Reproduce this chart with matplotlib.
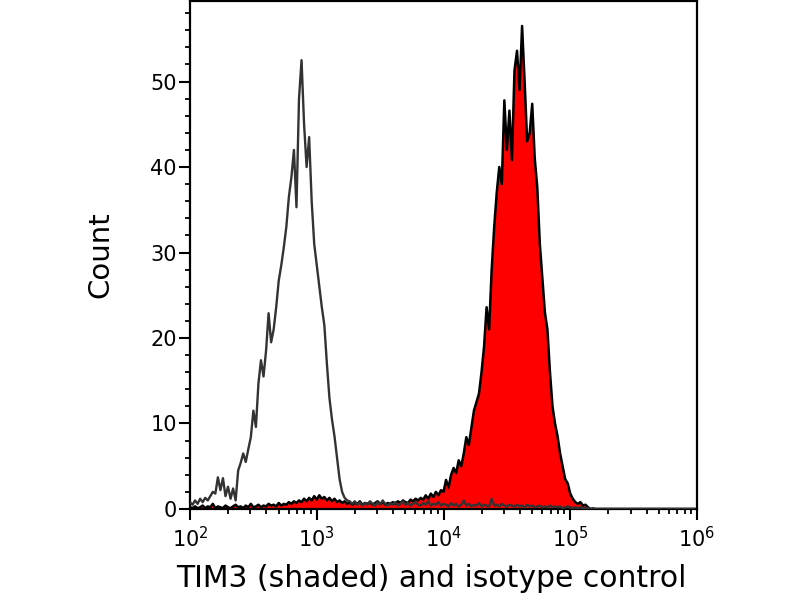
import matplotlib
matplotlib.use("Agg")
import matplotlib.pyplot as plt
import numpy as np
from matplotlib.ticker import LogLocator, NullFormatter, MultipleLocator, FixedLocator

# bin centres, log10 units (0.02-decade channels from 10^2 to 10^6)
log_start = 2.0
log_step = 0.02

isotype_counts = [
    0.8, 0.5, 1.0, 0.6, 1.2, 0.8, 1.3, 1.0, 1.5, 2.0,
    1.8, 3.7, 2.2, 3.6, 1.5, 2.6, 1.2, 2.4, 1.0, 4.5,
    5.4, 6.5, 5.5, 7.0, 8.4, 11.5, 9.6, 14.7, 17.4, 15.5,
    18.5, 22.9, 19.5, 21.0, 23.6, 26.7, 28.5, 30.6, 33.0, 36.5,
    38.8, 42.0, 35.3, 48.0, 52.5, 45.0, 40.0, 43.5, 36.0, 31.0,
    28.5, 26.0, 23.6, 21.5, 17.0, 13.0, 10.5, 8.5, 6.0, 3.5,
    2.0, 1.3, 1.0, 0.9, 0.6, 0.9, 0.5, 0.8, 0.4, 0.7,
    0.5, 0.9, 0.6, 0.4, 0.8, 0.5, 1.0, 0.6, 0.4, 0.7,
    0.5, 0.8, 0.4, 0.6, 0.9, 0.5, 0.7, 0.4, 0.6, 0.8,
    0.5, 0.4, 0.7, 0.5, 0.9, 0.4, 0.6, 0.5, 0.8, 0.4,
    0.6, 0.5, 0.3, 0.7, 0.4, 0.6, 0.3, 0.5, 1.0, 0.4,
    0.6, 0.3, 0.5, 0.4, 0.7, 0.3, 0.5, 0.4, 0.3, 1.2,
    0.4, 0.5, 0.3, 0.6, 0.4, 0.3, 0.5, 0.4, 0.3, 0.5,
    0.3, 0.4, 0.2, 0.5, 0.3, 0.4, 0.2, 0.3, 0.4, 0.2,
    0.3, 0.2, 0.4, 0.2, 0.3, 0.2, 0.3, 0.1, 0.2, 0.3,
    0.2, 0.1, 0.2, 0.1, 0.2, 0.1, 0.1, 0.1, 0.0, 0.1,
    0.0, 0.0, 0.0, 0.0, 0.0, 0.0, 0.0, 0.0, 0.0, 0.0,
    0.0, 0.0, 0.0, 0.0, 0.0, 0.0, 0.0, 0.0, 0.0, 0.0,
    0.0, 0.0, 0.0, 0.0, 0.0, 0.0, 0.0, 0.0, 0.0, 0.0,
    0.0, 0.0, 0.0, 0.0, 0.0, 0.0, 0.0, 0.0, 0.0, 0.0,
]

tim3_counts = [
    0.2, 0.1, 0.3, 0.1, 0.2, 0.4, 0.1, 0.3, 0.2, 0.6,
    0.1, 0.3, 0.2, 0.1, 0.4, 0.2, 0.1, 0.3, 0.5, 0.2,
    0.3, 0.1, 0.4, 0.2, 0.6, 0.2, 0.3, 0.5, 0.2, 0.4,
    0.3, 0.6, 0.4, 0.5, 0.3, 0.7, 0.4, 0.6, 0.5, 0.8,
    0.6, 0.9, 0.7, 1.0, 0.8, 1.2, 0.9, 1.3, 1.0, 1.5,
    1.1, 1.6, 1.2, 1.4, 1.0, 1.3, 0.9, 1.2, 0.8, 1.0,
    0.7, 0.9, 0.6, 0.8, 0.5, 0.7, 0.6, 0.9, 0.5, 0.7,
    0.6, 0.8, 0.5, 0.7, 0.9, 0.6, 0.8, 0.5, 0.7, 0.6,
    0.8, 0.6, 0.9, 0.7, 1.0, 0.8, 0.7, 1.1, 0.9, 1.2,
    1.0, 1.3, 1.1, 1.6, 1.2, 1.8, 1.4, 2.0, 1.6, 2.2,
    2.0, 3.4, 2.5, 4.0, 4.8, 4.2, 5.7, 5.0, 6.5, 8.4,
    7.5, 9.5, 11.5, 12.5, 13.5, 16.0, 19.0, 23.6, 21.0, 28.0,
    33.0, 37.0, 40.0, 38.0, 47.8, 42.0, 46.6, 40.8, 51.3, 53.6,
    49.0, 56.5, 50.0, 43.0, 44.0, 47.4, 41.0, 37.6, 31.0, 27.0,
    23.0, 21.0, 16.0, 12.0, 10.0, 8.5, 6.5, 5.0, 3.5, 3.0,
    1.8, 1.2, 0.8, 0.6, 0.8, 0.4, 0.5, 0.2, 0.0, 0.0,
    0.0, 0.0, 0.0, 0.0, 0.0, 0.0, 0.0, 0.0, 0.0, 0.0,
    0.0, 0.0, 0.0, 0.0, 0.0, 0.0, 0.0, 0.0, 0.0, 0.0,
    0.0, 0.0, 0.0, 0.0, 0.0, 0.0, 0.0, 0.0, 0.0, 0.0,
    0.0, 0.0, 0.0, 0.0, 0.0, 0.0, 0.0, 0.0, 0.0, 0.0,
]

x_label = "TIM3 (shaded) and isotype control"
y_label = "Count"
y_major_ticks = [0, 10, 20, 30, 40, 50]

n = len(tim3_counts)
x = 10 ** (log_start + log_step * np.arange(n))

fig = plt.figure(figsize=(8, 6), dpi=100)
ax = fig.add_axes([0.2375, 0.1517, 0.63375, 0.8463])

ax.fill_between(x, tim3_counts, 0, color="#ff0000", linewidth=0, zorder=2)
ax.plot(x, tim3_counts, color="#000000", linewidth=1.8, zorder=3)
ax.plot(x, isotype_counts, color="#333333", linewidth=1.7, zorder=4)

ax.set_xscale("log")
ax.set_xlim(1e2, 1e6)
ax.set_ylim(0, 59.4)

ax.yaxis.set_major_locator(FixedLocator(y_major_ticks))
ax.yaxis.set_minor_locator(MultipleLocator(2))
ax.xaxis.set_major_locator(LogLocator(base=10, numticks=10))
ax.xaxis.set_minor_locator(LogLocator(base=10, subs=np.arange(2, 10), numticks=100))
ax.xaxis.set_minor_formatter(NullFormatter())

for s in ax.spines.values():
    s.set_linewidth(1.6)
    s.set_color("black")

tick_family = ["Liberation Sans Narrow", "DejaVu Sans"]
ax.tick_params(axis="both", which="major", direction="out", length=8, width=1.5,
               labelsize=15, colors="black")
ax.tick_params(axis="y", which="major", pad=1.5)
ax.tick_params(axis="x", which="major", pad=4)
ax.tick_params(axis="both", which="minor", direction="out", length=3.8, width=1.3)
for lab in ax.get_xticklabels() + ax.get_yticklabels():
    lab.set_family(tick_family)

ax.set_xlabel(x_label, fontsize=21.5, family=["DejaVu Sans"])
ax.set_ylabel(y_label, fontsize=21, family=["DejaVu Sans"])
ax.xaxis.set_label_coords(0.475, -0.108)
ax.yaxis.set_label_coords(-0.15, 0.5)

fig.savefig("out.png", dpi=100)
